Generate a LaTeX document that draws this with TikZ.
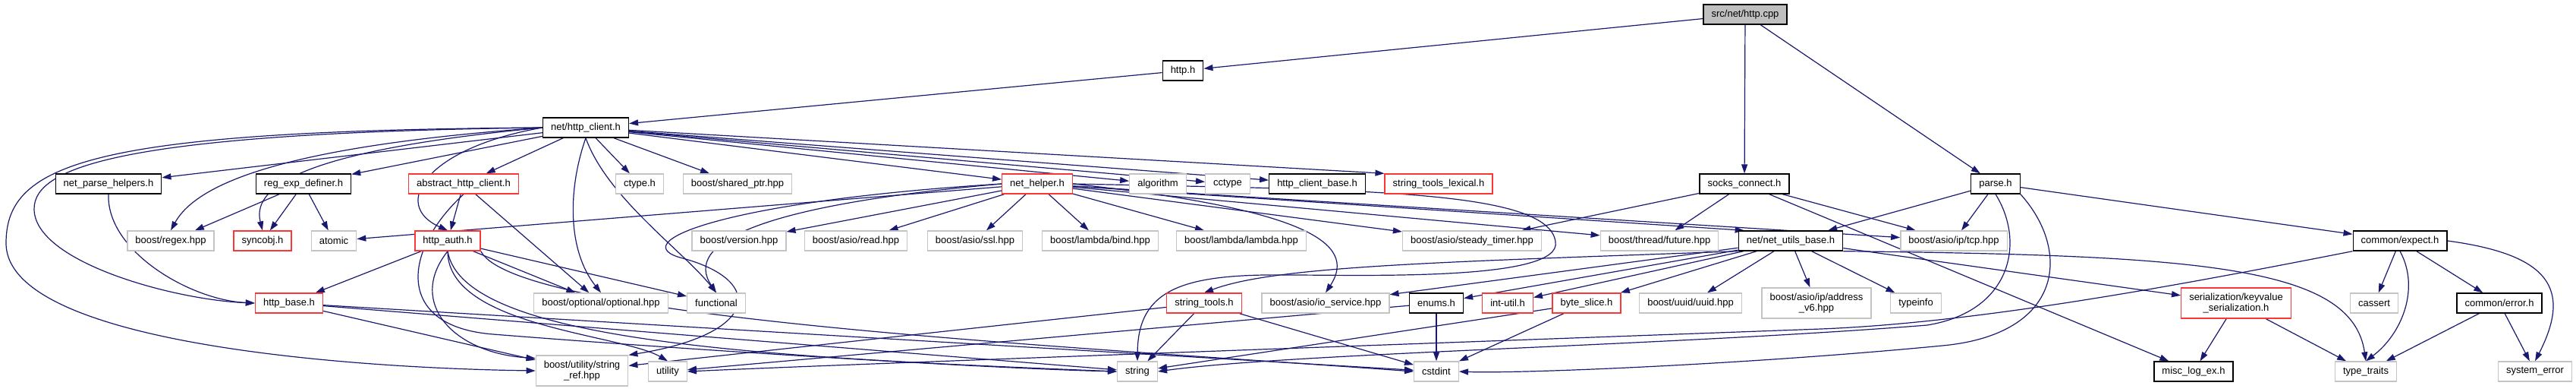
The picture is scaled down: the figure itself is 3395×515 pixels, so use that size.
\documentclass[tikz,border=0pt]{standalone}
\usepackage{fontspec}
\setmainfont{Liberation Sans}
\usepackage{xcolor}
\usetikzlibrary{arrows.meta,backgrounds}
\definecolor{edgeBlue}{RGB}{25,25,112}
\definecolor{boxGray}{RGB}{196,196,196}
\definecolor{boxRed}{RGB}{250,55,55}
\definecolor{rootFill}{RGB}{191,191,191}

\tikzset{
  filebox/.style={draw=black, line width=1pt, fill=white, inner xsep=7.9pt, inner ysep=0pt,
    minimum height=19.5pt, align=center, font=\fontsize{9.75}{10}\selectfont},
  docbox/.style={filebox},
  cutbox/.style={filebox, draw=boxRed},
  extbox/.style={filebox, draw=boxGray},
  rootbox/.style={filebox, fill=rootFill},
  twoline/.style={minimum height=30pt},
  inc/.style={draw=edgeBlue, line width=0.9pt, -{Triangle[length=9pt,width=6pt]}},
}

\begin{document}
\begin{tikzpicture}[x=0.75pt,y=-0.75pt]
\useasboundingbox (0,0) rectangle (3395,515);

% top
\node[rootbox] (cpp) at (2300,19) {src/net/http.cpp};
\node[docbox] (httph) at (1559,93) {http.h};
\node[docbox] (client) at (772,168) {net/http\_client.h};

% row 3
\node[docbox] (nph) at (143,242) {net\_parse\_helpers.h};
\node[docbox] (regdef) at (400,242) {reg\_exp\_definer.h};
\node[cutbox] (ahc) at (611,242) {abstract\_http\_client.h};
\node[extbox] (ctypeh) at (843,242) {ctype.h};
\node[extbox] (sptr) at (972,242) {boost/shared\_ptr.hpp};
\node[cutbox] (nhelp) at (1367,242) {net\_helper.h};
\node[extbox] (algo) at (1526,242) {algorithm};
\node[extbox] (cctype) at (1618,242) {cctype};
\node[docbox] (hcb) at (1736,242) {http\_client\_base.h};
\node[cutbox] (stl) at (1896,242) {string\_tools\_lexical.h};
\node[docbox] (socks) at (2299,242) {socks\_connect.h};
\node[docbox] (parse) at (2630,242) {parse.h};

% row 4
\node[extbox] (regex) at (225,317) {boost/regex.hpp};
\node[cutbox] (sync) at (346,317) {syncobj.h};
\node[extbox] (atomic) at (440,317) {atomic};
\node[cutbox] (hauth) at (590,317) {http\_auth.h};
\node[extbox] (version) at (974,317) {boost/version.hpp};
\node[extbox] (aread) at (1128,317) {boost/asio/read.hpp};
\node[extbox] (assl) at (1285,317) {boost/asio/ssl.hpp};
\node[extbox] (lbind) at (1450,317) {boost/lambda/bind.hpp};
\node[extbox] (llambda) at (1636,317) {boost/lambda/lambda.hpp};
\node[extbox] (steady) at (1940,317) {boost/asio/steady\_timer.hpp};
\node[extbox] (future) at (2187,317) {boost/thread/future.hpp};
\node[docbox] (nub) at (2360,317) {net/net\_utils\_base.h};
\node[extbox] (tcp) at (2575,317) {boost/asio/ip/tcp.hpp};
\node[docbox] (expect) at (3163,317) {common/expect.h};

% row 5
\node[cutbox] (hbase) at (381,399) {http\_base.h};
\node[extbox] (opt) at (792,399) {boost/optional/optional.hpp};
\node[extbox] (func) at (944,399) {functional};
\node[cutbox] (strtools) at (1587,399) {string\_tools.h};
\node[extbox] (iosvc) at (1747,399) {boost/asio/io\_service.hpp};
\node[docbox] (enums) at (1893,399) {enums.h};
\node[cutbox] (intutil) at (1987,399) {int-util.h};
\node[cutbox] (bslice) at (2091,399) {byte\_slice.h};
\node[extbox] (uuid) at (2228,399) {boost/uuid/uuid.hpp};
\node[extbox,twoline] (addr) at (2394,399) {boost/asio/ip/address\\\_v6.hpp};
\node[extbox] (typeinfo) at (2525,399) {typeinfo};
\node[cutbox,twoline] (kv) at (2947,399) {serialization/keyvalue\\\_serialization.h};
\node[extbox] (cassert) at (3129,399) {cassert};
\node[docbox] (cerror) at (3294,399) {common/error.h};

% bottom row
\node[extbox,twoline] (sref) at (767,488) {boost/utility/string\\\_ref.hpp};
\node[extbox] (utility) at (880,489) {utility};
\node[extbox] (string) at (1499,489) {string};
\node[extbox] (cstdint) at (1893,489) {cstdint};
\node[docbox] (misclog) at (2891,489) {misc\_log\_ex.h};
\node[extbox] (ttraits) at (3118,489) {type\_traits};
\node[extbox] (syserr) at (3341,489) {system\_error};

\begin{scope}[on background layer]
\foreach \t in {httph,socks,parse}
  \draw[inc] (cpp) -- (\t);
\draw[inc] (httph) -- (client);
\foreach \t in {nph,regdef,ahc,ctypeh,sptr,nhelp,algo,cctype,hcb}
  \draw[inc] (client) -- (\t);
\draw[inc] (client) -- (stl.north west);
\draw[inc] (nhelp) -- ([xshift=6pt]nub.north west);

\foreach \s/\t in {regdef/regex,regdef/sync,regdef/atomic,ahc/hauth,ahc/opt,
    hauth/hbase,hauth/opt,hauth/func,hbase/sref,hbase/string,hbase/cstdint,
    nhelp/atomic,nhelp/version,nhelp/aread,nhelp/assl,nhelp/lbind,nhelp/llambda,
    nhelp/steady,nhelp/future,nhelp/tcp,socks/steady,socks/future,socks/tcp,
    socks/misclog,parse/nub,parse/tcp,parse/expect,nub/iosvc,nub/enums,
    nub/intutil,nub/bslice,nub/uuid,nub/addr,nub/typeinfo,nub/kv,
    expect/cassert,expect/cerror,cerror/ttraits,cerror/syserr,kv/misclog,
    kv/ttraits,strtools/string,strtools/cstdint,strtools/sref,enums/cstdint,
    enums/utility,bslice/cstdint,bslice/string}
  \draw[inc] (\s) -- (\t);

% http_client.h, long ways round
\draw[inc] (client.west) .. controls (120,172) and (8,215) .. (8,320)
  .. controls (8,455) and (480,485) .. (sref.west);
\draw[inc] (client.west) .. controls (160,175) and (45,220) .. (45,275)
  .. controls (45,345) and (230,395) .. (hbase.west);
\draw[inc] (client.west) .. controls (380,192) and (260,240) .. (regex.north);
\draw[inc] (client.west) .. controls (420,196) and (330,240) .. (sync.north);
\draw[inc] (client.west) .. controls (560,195) and (515,270) .. (hauth.north);
\draw[inc] (client.south) .. controls (748,250) and (748,330) .. (opt.north);
\draw[inc] (client.south) .. controls (800,260) and (900,330) .. (func.north);
\draw[inc] (nph.south) .. controls (140,330) and (250,395) .. (hbase.west);

% abstract_http_client.h, http_auth.h
\draw[inc] (ahc.south) .. controls (530,330) and (520,430) .. (650,440)
  .. controls (900,460) and (1300,485) .. (string.west);
\draw[inc] (hauth.south) .. controls (535,400) and (600,465) .. (sref.165);
\draw[inc] (hauth.south) .. controls (590,430) and (820,440) .. (utility.north);
\draw[inc] (hauth.south) .. controls (610,450) and (1000,470) .. (string.west);
\draw[inc] (hauth.south east) .. controls (680,420) and (1400,455) .. (cstdint.west);

% net_helper.h
\draw[inc] (nhelp.west) .. controls (1000,270) and (900,320) .. (func.north);
\draw[inc] (nhelp.west) .. controls (950,265) and (820,320) .. (900,340)
  .. controls (1010,370) and (1000,440) .. (sref.north east);
\draw[inc] (nhelp.east) .. controls (1720,275) and (1790,320) .. (iosvc.north);
\draw[inc] (nhelp.east) .. controls (1800,250) and (2040,250) .. (2050,318)
  .. controls (2060,370) and (1800,362) .. (1700,362)
  .. controls (1560,360) and (1500,380) .. (string.north);
\draw[inc] (nub.south west) .. controls (1900,345) and (1680,350) .. (strtools.north);

% parse.h
\draw[inc] (parse.south) .. controls (2670,320) and (2650,410) .. (2540,428)
  .. controls (2200,455) and (1700,465) .. (string.east);
\draw[inc] (parse.south east) .. controls (2730,330) and (2720,440) .. (2560,455)
  .. controls (2300,480) and (2000,492) .. (cstdint.east);

% common/expect.h and net_utils_base.h
\draw[inc] (nub.south east) .. controls (2900,336) and (3100,350) .. (ttraits.north);
\draw[inc] (expect.south) .. controls (3190,380) and (3165,440) .. (ttraits.north);
\draw[inc] (expect.east) .. controls (3360,335) and (3390,380) .. (syserr.north);
\draw[inc] (expect.south west) .. controls (2850,380) and (2600,425) .. (2400,433)
  .. controls (1800,455) and (1100,480) .. (utility.east);
\end{scope}
\end{tikzpicture}
\end{document}
